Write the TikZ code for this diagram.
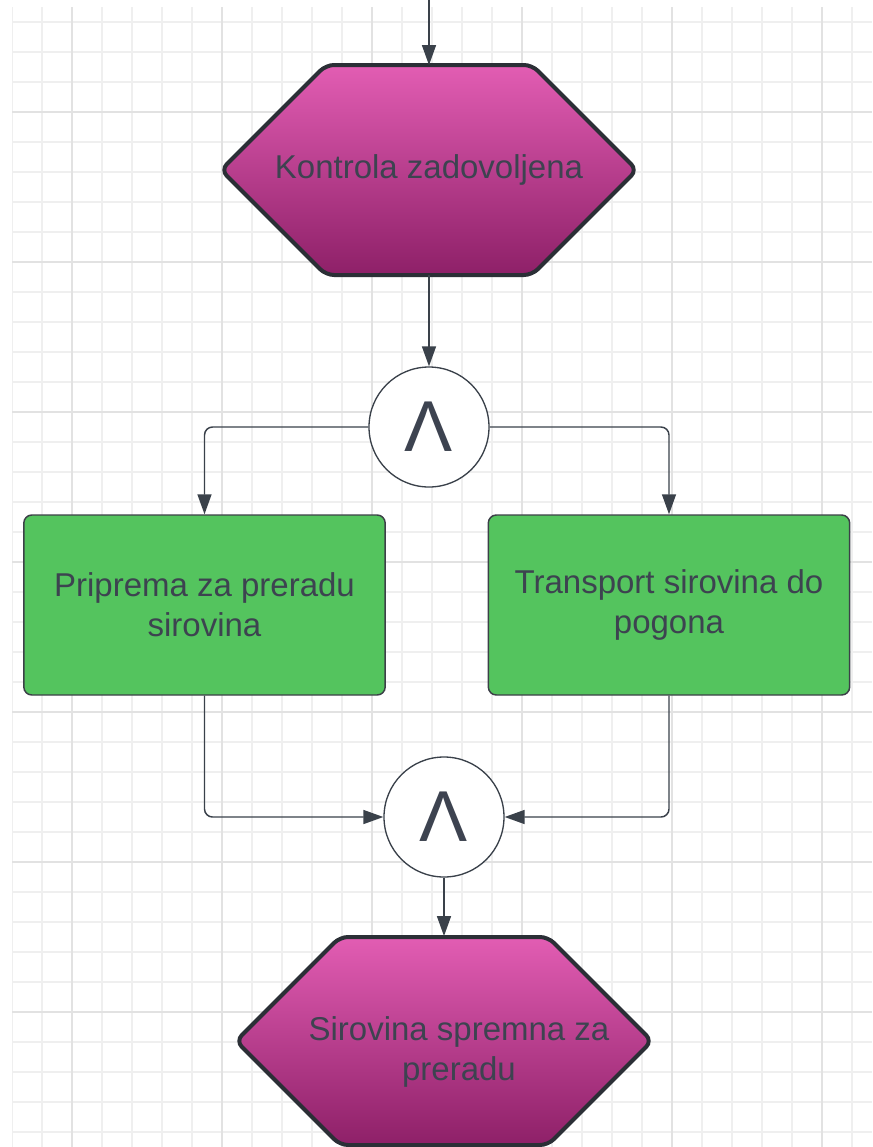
\documentclass[tikz,border=0pt]{standalone}
\usepackage{fontspec}
\setmainfont{Liberation Sans}
\usetikzlibrary{arrows.meta}
\definecolor{gridminor}{HTML}{EFEFEF}
\definecolor{gridmajor}{HTML}{E2E2E2}
\definecolor{hexborder}{HTML}{2B2F36}
\definecolor{hextop}{HTML}{E25DB3}
\definecolor{hexmid}{HTML}{C82C94}
\definecolor{hexbot}{HTML}{8E2068}
\definecolor{boxgreen}{HTML}{54C45E}
\definecolor{boxborder}{HTML}{3C4048}
\definecolor{txt}{HTML}{3D4350}
\definecolor{conncol}{HTML}{3A414A}
\tikzset{
  minorline/.style={gridminor, line width=1.5pt},
  majorline/.style={gridmajor, line width=1.5pt},
  hexshape/.style={draw=hexborder, line width=3pt, rounded corners=6pt,
    top color=hextop, middle color=hexmid, bottom color=hexbot},
  hexnode/.style={rectangle, draw=none, minimum width=312pt, minimum height=157pt,
    inner sep=0pt, text=txt, font=\fontsize{24.75}{30}\selectfont, align=center},
  taskbox/.style={rectangle, draw=boxborder, line width=1.1pt, fill=boxgreen,
    rounded corners=6pt, minimum width=271pt, minimum height=135pt, inner sep=0pt,
    text=txt, font=\fontsize{24.75}{30}\selectfont, align=center},
  andgate/.style={circle, draw=conncol, line width=1pt, fill=white,
    minimum size=90pt, inner sep=0pt, text=txt, font=\fontsize{54}{54}\selectfont},
  conn/.style={draw=conncol, line width=1.1pt, rounded corners=6pt,
    -{Triangle[width=10.5pt,length=15pt]}}
}
\begin{document}
\begin{tikzpicture}[x=0.75pt, y=-0.75pt]
\useasboundingbox (0,0) rectangle (872,1147);
\fill[white] (0,0) rectangle (872,1147);
% grid
\begin{scope}
\clip (12,7) rectangle (872,1147);
\foreach \gx in {12,42,...,852} \draw[minorline] (\gx,7) -- (\gx,1147);
\foreach \gy in {22,52,...,1132} \draw[minorline] (12,\gy) -- (872,\gy);
\foreach \gx in {72,222,...,822} \draw[majorline] (\gx,7) -- (\gx,1147);
\foreach \gy in {112,262,...,1012} \draw[majorline] (12,\gy) -- (872,\gy);
\end{scope}
% hexagon shapes
\shade[hexshape] (221,170) -- (326,65) -- (532,65) -- (637,170) -- (532,275) -- (326,275) -- cycle;
\shade[hexshape] (236,1041) -- (340,937) -- (548,937) -- (652,1041) -- (548,1145) -- (340,1145) -- cycle;
% nodes
\node[hexnode] (k1) at (429,170) {Kontrola zadovoljena};
\node[andgate] (and1) at (429,427) {Λ};
\node[taskbox] (p1) at (204.5,605) {Priprema za preradu\\sirovina};
\node[taskbox] (t1) at (669,605) {Transport sirovina do\\pogona};
\node[andgate] (and2) at (444,817) {Λ};
\node[hexnode] (k2) at (444,1041) {\hspace*{22.5pt}\raisebox{-15pt}[0pt][0pt]{\begin{tabular}{@{}c@{}}Sirovina spremna za\\preradu\end{tabular}}};
\coordinate (topin) at (429,0);
% connectors
\draw[conn] (topin) -- (k1.north);
\draw[conn] (k1.south) -- (and1.north);
\draw[conn] (and1.west) -| (p1.north);
\draw[conn] (and1.east) -| (t1.north);
\draw[conn] (p1.south) |- (and2.west);
\draw[conn] (t1.south) |- (and2.east);
\draw[conn] (and2.south) -- (k2.north);
\end{tikzpicture}
\end{document}
